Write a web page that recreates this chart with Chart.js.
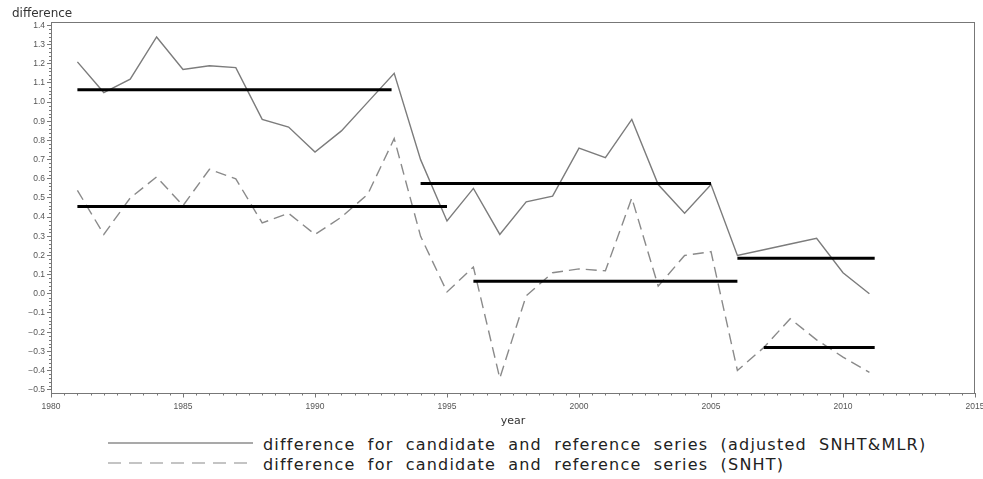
<!DOCTYPE html>
<html>
<head>
<meta charset="utf-8">
<script src="https://cdn.jsdelivr.net/npm/chart.js@4.4.0/dist/chart.umd.min.js"></script>
<style>
body { margin: 0; background: #fff; }
#wrap { position: relative; width: 983px; height: 479px; }
#box { position: absolute; left: 0; top: 0; width: 983px; height: 428px; }
#legend { position: absolute; left: 108px; top: 434px; font-family: 'DejaVu Sans'; font-size: 16px; letter-spacing: 1.2px; word-spacing: 6px; color: #222; }
#legend div { display: flex; align-items: center; height: 20px; white-space: nowrap; }
#legend svg { margin-right: 10px; }
</style>
</head>
<body>
<div id="wrap">
  <div id="box"><canvas id="myChart"></canvas></div>
  <div id="legend"></div>
</div>
<script>
var years = [1981, 1982, 1983, 1984, 1985, 1986, 1987, 1988, 1989, 1990,
  1991, 1992, 1993, 1994, 1995, 1996, 1997, 1998, 1999, 2000,
  2001, 2002, 2003, 2004, 2005, 2006, 2007, 2008, 2009, 2010, 2011];
var adjusted = [1.21, 1.05, 1.12, 1.34, 1.17, 1.19, 1.18, 0.91, 0.87, 0.74,
  0.85, 1.00, 1.15, 0.70, 0.38, 0.55, 0.31, 0.48, 0.51, 0.76,
  0.71, 0.91, 0.57, 0.42, 0.57, 0.20, 0.23, 0.26, 0.29, 0.11, 0.00];
var snht = [0.54, 0.31, 0.50, 0.61, 0.46, 0.65, 0.60, 0.37, 0.42, 0.31,
  0.40, 0.52, 0.81, 0.30, 0.01, 0.14, -0.44, -0.01, 0.11, 0.13,
  0.12, 0.50, 0.04, 0.20, 0.22, -0.40, -0.28, -0.13, -0.24, -0.33, -0.41];

// mean level segments (start year, end year, level)
var segStart = [1981, 1981, 1994, 1996, 2006, 2007];
var segEnd = [1992.9, 1995, 2005, 2006, 2011.2, 2011.2];
var segValue = [1.065, 0.455, 0.575, 0.065, 0.185, -0.28];

var seriesLabels = [
  'difference for candidate and reference series (adjusted SNHT&MLR)',
  'difference for candidate and reference series (SNHT)'
];

var toPoints = function(vals) {
  return years.map(function(yr, i) { return {x: yr, y: vals[i]}; });
};

var datasets = [
  {label: seriesLabels[0], data: toPoints(adjusted), borderColor: '#7c7c7c', legendColor: '#555',
   borderWidth: 1.4, pointRadius: 0, order: 1},
  {label: seriesLabels[1], data: toPoints(snht), borderColor: '#8a8a8a', legendColor: '#8a8a8a',
   borderWidth: 1.4, borderDash: [11, 6], pointRadius: 0, order: 1}
];
segValue.forEach(function(v, i) {
  datasets.push({
    data: [{x: segStart[i], y: v}, {x: segEnd[i], y: v}],
    borderColor: '#000', borderWidth: 3, pointRadius: 0, order: 0
  });
});

var frameAndMinor = {
  id: 'frameAndMinor',
  afterDraw: function(chart) {
    var ctx = chart.ctx, a = chart.chartArea, x = chart.scales.x, y = chart.scales.y;
    ctx.save();
    ctx.strokeStyle = '#777';
    ctx.lineWidth = 1;
    ctx.beginPath();
    ctx.moveTo(a.left, Math.round(a.top) + 0.5);
    ctx.lineTo(a.right, Math.round(a.top) + 0.5);
    ctx.moveTo(Math.round(a.right) - 0.5, a.top);
    ctx.lineTo(Math.round(a.right) - 0.5, a.bottom);
    for (var i = x.min * 2; i <= x.max * 2; i++) {
      if (i % 10 === 0) continue;
      var px = Math.round(x.getPixelForValue(i / 2)) + 0.5;
      ctx.moveTo(px, a.bottom);
      ctx.lineTo(px, a.bottom + 2);
    }
    for (var j = -25; j <= 70; j++) {
      if (j % 5 === 0) continue;
      var py = Math.round(y.getPixelForValue(j * 0.02)) + 0.5;
      ctx.moveTo(a.left - 2, py);
      ctx.lineTo(a.left, py);
    }
    ctx.stroke();
    ctx.restore();
  }
};

var tickFont = {family: 'Liberation Sans', size: 8.5, lineHeight: 1};

var ctx = document.getElementById('myChart');
var myChart = new Chart(ctx, {
  type: 'line',
  data: {datasets: datasets},
  options: {
    responsive: true,
    maintainAspectRatio: false,
    animation: false,
    events: [],
    layout: {padding: {left: 12, right: 0, top: 0, bottom: 0}},
    elements: {line: {tension: 0, fill: false}},
    plugins: {
      legend: {display: false},
      tooltip: {enabled: false},
      title: {
        display: true, text: 'difference', align: 'start', color: '#333',
        font: {family: 'DejaVu Sans', size: 12, weight: 'normal', lineHeight: 1.2},
        padding: {top: 7, bottom: 1}
      }
    },
    scales: {
      x: {
        type: 'linear', min: 1980, max: 2015,
        afterFit: function(scale) { scale.paddingRight = 8; },
        ticks: {stepSize: 5, color: '#555', font: tickFont, padding: 5, maxRotation: 0,
          callback: function(v) { return String(v); }},
        grid: {drawOnChartArea: false, tickLength: 4, color: '#777'},
        border: {display: true, color: '#777'},
        title: {display: true, text: 'year', color: '#333',
          font: {family: 'DejaVu Sans', size: 11, lineHeight: 1}, padding: {top: 0, bottom: 1}}
      },
      y: {
        min: -0.52, max: 1.416,
        afterFit: function(scale) { scale.width = 39; },
        ticks: {stepSize: 0.1, includeBounds: false, autoSkip: false, color: '#555', font: tickFont, padding: 2,
          callback: function(v) { return (v < -0.001 ? '\u2212' : '') + Math.abs(v).toFixed(1); }},
        grid: {drawOnChartArea: false, tickLength: 4, color: '#777'},
        border: {display: true, color: '#777'}
      }
    }
  },
  plugins: [frameAndMinor]
});

// html legend built from the labelled datasets
var legendBox = document.getElementById('legend');
myChart.data.datasets.forEach(function(ds) {
  if (!ds.label) return;
  var row = document.createElement('div');
  var dash = ds.borderDash ? ' stroke-dasharray="13 8"' : '';
  row.innerHTML = '<svg width="145" height="20"><line x1="0" y1="9" x2="145" y2="9" stroke="' + ds.legendColor +
    '" stroke-width="1.2"' + dash + '/></svg>';
  var span = document.createElement('span');
  span.textContent = ds.label;
  row.appendChild(span);
  legendBox.appendChild(row);
});
</script>
</body>
</html>
